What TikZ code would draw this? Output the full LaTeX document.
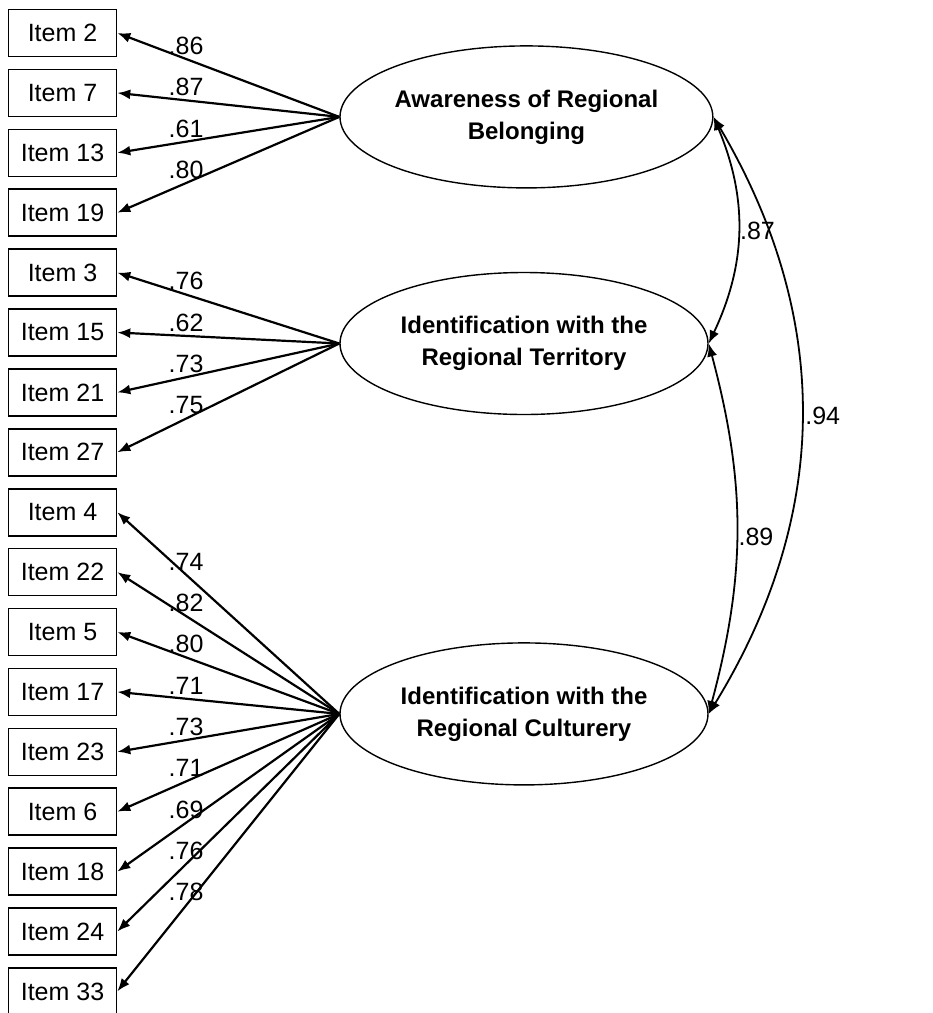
\documentclass[tikz,border=0pt]{standalone}
\usepackage{fontspec}
\setsansfont{Liberation Sans}
\usetikzlibrary{
arrows.meta,
positioning,
shapes
}
\tikzset{>={Latex[length=13pt,width=10pt]}}

\begin{document}
\begin{tikzpicture}[x=1pt, y=1pt, node distance=11.3pt, font=\sffamily\fontsize{25}{32}\selectfont,
	item/.style={
		draw,
		line width=1.6pt,
		minimum width=108pt,
		minimum height=47pt,
		inner sep=0pt
	},
	latent/.style={
		ellipse,
		draw,
		line width=1.4pt,
		minimum width=368pt,
		minimum height=142pt,
		inner sep=0pt,
		align=center,
		font=\sffamily\bfseries\fontsize{24}{32}\selectfont
	},
	loading/.style={->, line width=2.2pt},
	covar/.style={<->, line width=1.8pt},
	coef/.style={above, pos=0.69}]
		\useasboundingbox (-62.5,33) rectangle (870.5,-980);

		\node[item]                   (item2)  {Item 2};
		\node[item,below=of item2]    (item7)  {Item 7};
		\node[item,below=of item7]    (item13) {Item 13};
		\node[item,below=of item13]   (item19) {Item 19};
		\node[item,below=of item19]   (item3)  {Item 3};
		\node[item,below=of item3]    (item15) {Item 15};
		\node[item,below=of item15]   (item21) {Item 21};
		\node[item,below=of item21]   (item27) {Item 27};
		\node[item,below=of item27]   (item4)  {Item 4};
		\node[item,below=of item4]    (item22) {Item 22};
		\node[item,below=of item22]   (item5)  {Item 5};
		\node[item,below=of item5]    (item17) {Item 17};
		\node[item,below=of item17]   (item23) {Item 23};
		\node[item,below=of item23]   (item6)  {Item 6};
		\node[item,below=of item6]    (item18) {Item 18};
		\node[item,below=of item18]   (item24) {Item 24};
		\node[item,below=of item24]   (item33) {Item 33};

		\node[latent,right=222pt of item7.east,yshift=-24pt]  (belonging) {Awareness of Regional\\Belonging};
		\node[latent,right=222pt of item15.east,yshift=-11pt] (territory) {Identification with the\\Regional Territory};
		\node[latent,right=222pt of item17.east,yshift=-22pt] (culture)   {Identification with the\\Regional Culturery};

		\draw[loading] (belonging.west) -- node[coef] {.86} (item2.east);
		\draw[loading] (belonging.west) -- node[coef] {.87} (item7.east);
		\draw[loading] (belonging.west) -- node[coef] {.61} (item13.east);
		\draw[loading] (belonging.west) -- node[coef] {.80} (item19.east);

		\draw[loading] (territory.west) -- node[coef] {.76} (item3.east);
		\draw[loading] (territory.west) -- node[coef] {.62} (item15.east);
		\draw[loading] (territory.west) -- node[coef] {.73} (item21.east);
		\draw[loading] (territory.west) -- node[coef] {.75} (item27.east);

		\draw[loading] (culture.west) -- node[coef] {.74} (item4.east);
		\draw[loading] (culture.west) -- node[coef] {.82} (item22.east);
		\draw[loading] (culture.west) -- node[coef] {.80} (item5.east);
		\draw[loading] (culture.west) -- node[coef] {.71} (item17.east);
		\draw[loading] (culture.west) -- node[coef] {.73} (item23.east);
		\draw[loading] (culture.west) -- node[coef] {.71} (item6.east);
		\draw[loading] (culture.west) -- node[coef] {.69} (item18.east);
		\draw[loading] (culture.west) -- node[coef] {.76} (item24.east);
		\draw[loading] (culture.west) -- node[coef] {.78} (item33.east);

		% correlations between factors
		\draw[covar] (belonging.east) to[bend left=24] node[right,inner sep=1pt] {.87} (territory.east);
		\draw[covar] (territory.east) to[bend left=15] node[right,inner sep=1pt,yshift=-8pt] {.89} (culture.east);
		\draw[covar] (belonging.east) to[bend left=31] node[right,inner sep=3pt] {.94} (culture.east);
	\end{tikzpicture}
\end{document}
